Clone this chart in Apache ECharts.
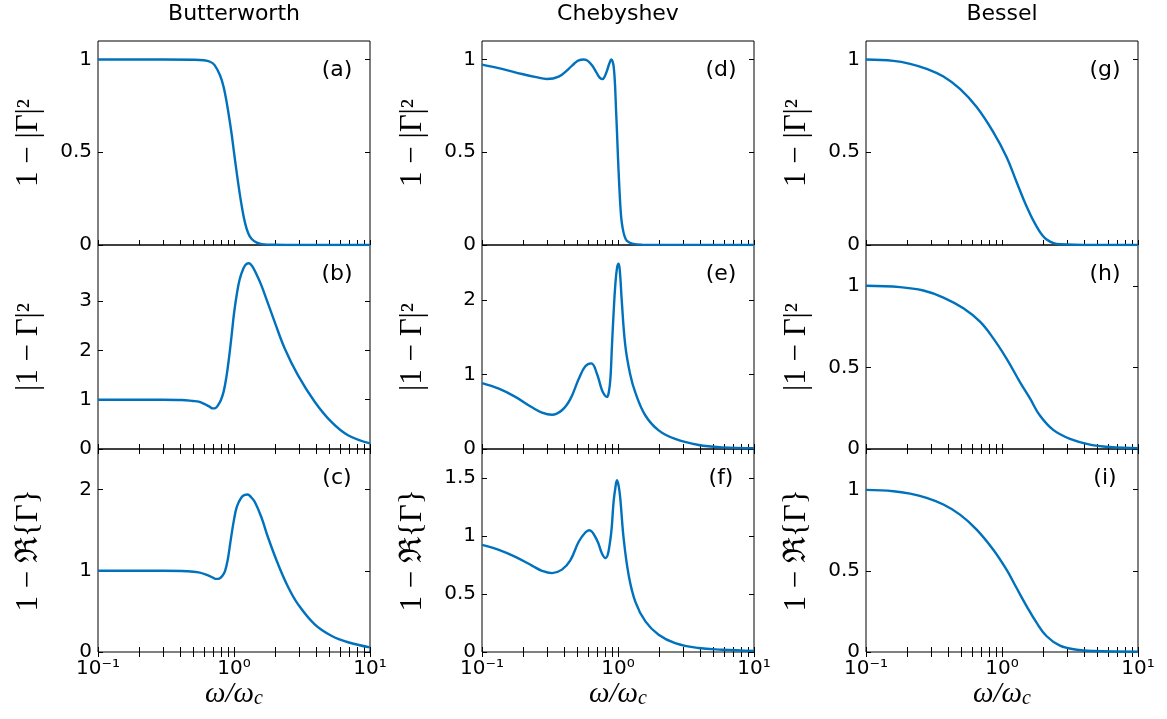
<!DOCTYPE html>
<html><head><meta charset="utf-8">
<script src="https://cdn.jsdelivr.net/npm/echarts@6/dist/echarts.min.js"></script>
<style>html,body{margin:0;padding:0;background:#fff}#c{width:1167px;height:719px}</style>
</head><body><div id="c"></div>
<script>
// ---------- data ----------
const columnTitles = ['Butterworth', 'Chebyshev', 'Bessel'];
const rowLabels = ['1 − |Γ|²', '|1 − Γ|²', '1 − ℜ{Γ}'];
const panelTags = ['(a)', '(b)', '(c)', '(d)', '(e)', '(f)', '(g)', '(h)', '(i)'];
const xTicks = [0.1, 1, 10];
const xTickLabels = ['10⁻¹', '10⁰', '10¹'];
const xAllTicks = [0.1, 0.2, 0.3, 0.4, 0.5, 0.6, 0.7, 0.8, 0.9, 1, 2, 3, 4, 5, 6, 7, 8, 9, 10];

// Butterworth
const wA = [0.1, 0.3, 0.5, 0.6, 0.667, 0.72, 0.789, 0.84, 0.883, 0.92, 0.96, 1.0, 1.047, 1.09, 1.14, 1.2, 1.27, 1.35, 1.47, 1.6, 2, 3, 10];
const yA = [1, 1, 0.999, 0.996, 0.988, 0.97, 0.915, 0.85, 0.77, 0.69, 0.60, 0.50, 0.39, 0.30, 0.21, 0.125, 0.065, 0.032, 0.013, 0.005, 0.001, 0, 0];
const wB = [0.1, 0.3, 0.41, 0.5, 0.55, 0.61, 0.66, 0.70, 0.73, 0.76, 0.8, 0.84, 0.88, 0.92, 0.96, 1.0, 1.05, 1.10, 1.17, 1.23, 1.29, 1.36, 1.46, 1.59, 1.78, 1.99, 2.36, 2.95, 3.92, 5.2, 6.89, 10];
const yB = [1, 1, 0.995, 0.975, 0.96, 0.91, 0.86, 0.825, 0.83, 0.88, 0.99, 1.17, 1.47, 1.86, 2.3, 2.75, 3.15, 3.44, 3.66, 3.75, 3.77, 3.71, 3.55, 3.32, 2.95, 2.58, 2.04, 1.50, 0.96, 0.55, 0.28, 0.115];
const wC = [0.1, 0.3, 0.45, 0.55, 0.65, 0.70, 0.74, 0.78, 0.82, 0.86, 0.90, 0.95, 1.0, 1.05, 1.13, 1.2, 1.26, 1.33, 1.42, 1.59, 1.78, 2.11, 2.5, 2.95, 3.92, 5.2, 6.89, 10];
const yC = [1, 1, 0.995, 0.98, 0.94, 0.915, 0.90, 0.905, 0.935, 1.0, 1.14, 1.40, 1.63, 1.79, 1.90, 1.935, 1.94, 1.91, 1.85, 1.66, 1.41, 1.08, 0.80, 0.59, 0.34, 0.20, 0.12, 0.057];
// Chebyshev
const wD = [0.1, 0.14, 0.197, 0.25, 0.3, 0.366, 0.434, 0.48, 0.514, 0.56, 0.60, 0.65, 0.70, 0.74, 0.771, 0.80, 0.83, 0.865, 0.893, 0.912, 0.93, 0.95, 0.966, 0.983, 1.0, 1.017, 1.035, 1.055, 1.08, 1.12, 1.164, 1.27, 1.5, 10];
const yD = [0.973, 0.95, 0.922, 0.905, 0.895, 0.908, 0.95, 0.98, 0.995, 1.0, 0.993, 0.965, 0.925, 0.90, 0.895, 0.91, 0.94, 0.98, 1.0, 0.99, 0.96, 0.87, 0.74, 0.61, 0.47, 0.35, 0.24, 0.15, 0.094, 0.045, 0.022, 0.007, 0.001, 0];
const wE = [0.1, 0.133, 0.176, 0.233, 0.276, 0.327, 0.387, 0.446, 0.514, 0.575, 0.637, 0.70, 0.762, 0.80, 0.83, 0.855, 0.879, 0.903, 0.929, 0.955, 0.985, 1.011, 1.035, 1.065, 1.13, 1.23, 1.34, 1.59, 1.99, 2.63, 3.92, 5.82, 10];
const yE = [0.885, 0.81, 0.70, 0.56, 0.49, 0.46, 0.52, 0.67, 0.94, 1.11, 1.15, 1.01, 0.79, 0.72, 0.70, 0.76, 0.94, 1.39, 1.84, 2.2, 2.44, 2.49, 2.36, 2.0, 1.4, 1.0, 0.76, 0.45, 0.25, 0.135, 0.054, 0.022, 0.01];
const wF = [0.1, 0.133, 0.176, 0.233, 0.276, 0.327, 0.387, 0.446, 0.514, 0.575, 0.615, 0.70, 0.762, 0.81, 0.879, 0.929, 0.955, 0.983, 1.012, 1.04, 1.10, 1.197, 1.34, 1.59, 1.99, 2.63, 3.92, 5.82, 10];
const yF = [0.923, 0.88, 0.82, 0.745, 0.70, 0.68, 0.71, 0.79, 0.95, 1.03, 1.05, 0.965, 0.85, 0.81, 0.97, 1.30, 1.41, 1.48, 1.43, 1.32, 0.98, 0.665, 0.435, 0.264, 0.149, 0.077, 0.034, 0.02, 0.01];
// Bessel
const wG = [0.1, 0.159, 0.211, 0.279, 0.371, 0.491, 0.651, 0.863, 1.08, 1.28, 1.52, 1.80, 2.13, 2.67, 4.7, 10];
const yG = [1.0, 0.993, 0.977, 0.95, 0.909, 0.842, 0.744, 0.609, 0.475, 0.34, 0.206, 0.099, 0.03, 0.004, 0, 0];
const wH = [0.1, 0.178, 0.264, 0.371, 0.52, 0.689, 0.863, 1.08, 1.355, 1.61, 1.90, 2.38, 3.16, 4.43, 6.22, 10];
const yH = [1.0, 0.992, 0.971, 0.928, 0.862, 0.78, 0.678, 0.554, 0.41, 0.308, 0.205, 0.117, 0.062, 0.027, 0.012, 0.005];
const wI = [0.1, 0.159, 0.211, 0.279, 0.371, 0.491, 0.651, 0.863, 1.08, 1.28, 1.52, 1.80, 2.13, 2.67, 3.54, 4.7, 10];
const yI = [0.998, 0.99, 0.975, 0.949, 0.908, 0.846, 0.754, 0.63, 0.507, 0.394, 0.281, 0.179, 0.097, 0.039, 0.014, 0.006, 0.002];

// y-axis limits and ticks per panel (a..i)
const yMaxes = [1.1, 4.14, 2.5, 1.1, 2.74, 1.75, 1.1, 1.25, 1.25];
const yTickSets = [[0, 0.5, 1], [0, 1, 2, 3], [0, 1, 2], [0, 0.5, 1], [0, 1, 2], [0, 0.5, 1, 1.5], [0, 0.5, 1], [0, 0.5, 1], [0, 0.5, 1]];
const xsByPanel = [wA, wB, wC, wD, wE, wF, wG, wH, wI];
const ysByPanel = [yA, yB, yC, yD, yE, yF, yG, yH, yI];

// ---------- layout ----------
const L = [98, 482, 866], T = [41, 245, 449], H = [204, 204, 203], W = 272;
const LINE = '#0072BD';
const SANS = "'DejaVu Sans', sans-serif";
const SERIF = "'Liberation Serif', 'DejaVu Serif', serif";

const grids = [], xAxes = [], yAxes = [], series = [], graphic = [];
for (let j = 0; j < 3; j++) {
  graphic.push({type: 'text', x: L[j] + W / 2, y: 14,
    style: {text: columnTitles[j], font: '22px ' + SANS, fill: '#000', align: 'center', verticalAlign: 'middle'}});
  for (let i = 0; i < 3; i++) {
    const p = j * 3 + i;
    const g = grids.length;
    grids.push({left: L[j], top: T[i], width: W, height: H[i], show: true, borderColor: '#000', borderWidth: 1, backgroundColor: 'rgba(0,0,0,0)'});
    const xi = xAxes.length;
    const bottomRow = i === 2;
    const xCommon = {type: 'log', logBase: 10, min: 0.1, max: 10, gridIndex: g,
      axisLine: {show: false}, splitLine: {show: false},
      axisTick: {show: true, inside: true, length: 5, customValues: xAllTicks, lineStyle: {color: '#000', width: 1}}};
    xAxes.push(Object.assign({}, xCommon, {position: 'bottom',
      axisLabel: {show: bottomRow, customValues: xTicks, margin: 7, color: '#000', fontFamily: SANS, fontSize: 20,
        formatter: v => { const k = xTicks.findIndex(t => Math.abs(t - v) / t < 1e-6); return k >= 0 ? xTickLabels[k] : ''; }},
      name: bottomRow ? '{i|ω/ω}{s|c}' : '', nameLocation: 'middle', nameGap: 25,
      nameTextStyle: {rich: {
        i: {fontFamily: SERIF, fontStyle: 'italic', fontSize: 29, color: '#000', lineHeight: 30, verticalAlign: 'bottom'},
        s: {fontFamily: SERIF, fontStyle: 'italic', fontSize: 20, color: '#000', lineHeight: 14, verticalAlign: 'bottom'}}}
    }));
    xAxes.push(Object.assign({}, xCommon, {position: 'top', axisLabel: {show: false},
      axisTick: Object.assign({}, xCommon.axisTick, {show: i !== 0})}));
    const yi = yAxes.length;
    const yCommon = {type: 'value', min: 0, max: yMaxes[p], gridIndex: g, axisLine: {show: false}, splitLine: {show: false},
      axisTick: {show: true, inside: true, length: 5, customValues: yTickSets[p], lineStyle: {color: '#000', width: 1}}};
    yAxes.push(Object.assign({}, yCommon, {position: 'left',
      axisLabel: {show: true, customValues: yTickSets[p], margin: 6, color: '#000', fontFamily: SANS, fontSize: 20, formatter: v => String(v)},
      name: rowLabels[i], nameLocation: 'middle', nameRotate: 90, nameGap: 54,
      nameTextStyle: {fontFamily: SERIF, fontSize: 31, color: '#000'}}));
    yAxes.push(Object.assign({}, yCommon, {position: 'right', axisLabel: {show: false}}));
    series.push({type: 'line', xAxisIndex: xi, yAxisIndex: yi, showSymbol: false, smooth: 0.4,
      lineStyle: {color: LINE, width: 2.4}, itemStyle: {color: LINE}, silent: true, clip: true,
      data: xsByPanel[p].map((x, k) => [x, ysByPanel[p][k]])});
    graphic.push({type: 'text', x: L[j] + W - 33, y: T[i] + 29,
      style: {text: panelTags[p], font: '22px ' + SANS, fill: '#000', align: 'center', verticalAlign: 'middle'}});
  }
}

const chart = echarts.init(document.getElementById('c'), null, {renderer: 'canvas'});
chart.setOption({animation: false, backgroundColor: '#fff', grid: grids, xAxis: xAxes, yAxis: yAxes, series: series, graphic: graphic});
</script></body></html>
